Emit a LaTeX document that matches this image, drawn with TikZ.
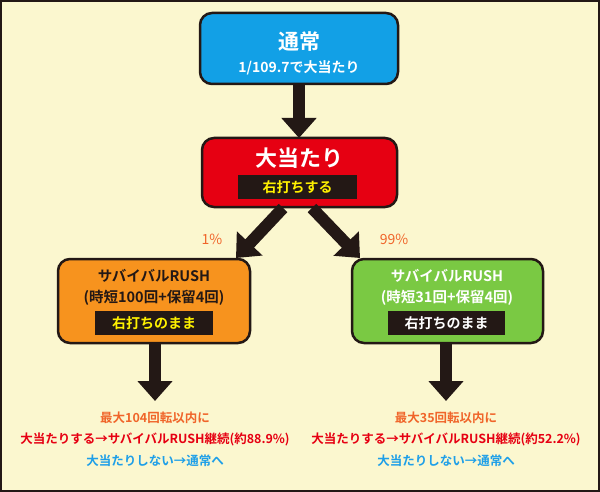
\documentclass[tikz,border=0pt]{standalone}
\usepackage{fontspec}
\setmainfont{Noto Sans CJK JP}[BoldFont={* Bold}]
\usetikzlibrary{arrows.meta}
\definecolor{bg}{HTML}{FBF7CF}
\definecolor{ink}{HTML}{231815}
\definecolor{cblue}{HTML}{12A0E6}
\definecolor{cred}{HTML}{E60012}
\definecolor{corange}{HTML}{F7931E}
\definecolor{cgreen}{HTML}{7AC943}
\definecolor{tor}{HTML}{F0652A}
\definecolor{tred}{HTML}{E60012}
\definecolor{tblue}{HTML}{1E9FE8}
\definecolor{yel}{HTML}{FFF100}
\begin{document}
\begin{tikzpicture}[x=1pt,y=-1pt,
 box/.style={draw=ink,line width=2.5pt,rounded corners=12pt},
 lab/.style={fill=ink,inner sep=0pt,font=\bfseries\fontsize{14}{14}\selectfont},
 arr/.style={draw=ink,line width=12pt,-{Triangle[width=34pt,length=20pt]}},
 t/.style={font=\bfseries\fontsize{12.5}{13}\selectfont,inner sep=0pt}]
\fill[bg] (0,0) rectangle (600,492);
\draw[ink,line width=2pt] (1,1) rectangle (599,491);
% top
\draw[box,fill=cblue] (200,13) rectangle (398,84);
\node[t,text=white,font=\bfseries\fontsize{21}{21}\selectfont] (n1) at (299,42) {通常};
\node[t,text=white,font=\bfseries\fontsize{14}{14}\selectfont] (n1b) at (299,68) {1/109.7で大当たり};
\coordinate (a1s) at (299,84); \coordinate (a1e) at (299,138);
\draw[arr] (a1s) -- (a1e);
% red
\draw[box,fill=cred] (202,138) rectangle (397,207);
\node[t,text=white,font=\bfseries\fontsize{22}{22}\selectfont] (n2) at (299,158) {大当たり};
\node[lab,minimum width=119pt,minimum height=24pt,text=yel] (n2b) at (297.5,187) {右打ちする};
\coordinate (a2s) at (283,208); \coordinate (a2e) at (236,258);
\coordinate (a3s) at (312,208); \coordinate (a3e) at (360,258);
\draw[arr] (a2s) -- (a2e);
\draw[arr] (a3s) -- (a3e);
\node[t,text=tor,font=\fontsize{14}{14}\selectfont] (p1) at (212,239) {1\%};
\node[t,text=tor,font=\fontsize{14}{14}\selectfont] (p2) at (394,239) {99\%};
% orange
\draw[box,fill=corange] (58,259) rectangle (250,343);
\node[t,text=ink,font=\bfseries\fontsize{14.5}{15}\selectfont] (o1) at (154,276) {サバイバルRUSH};
\node[t,text=ink,font=\bfseries\fontsize{14.5}{15}\selectfont] (o2) at (154,298) {(時短100回+保留4回)};
\node[lab,minimum width=118pt,minimum height=24pt,text=yel] (o3) at (154,323) {右打ちのまま};
% green
\draw[box,fill=cgreen] (352,259) rectangle (543,343);
\node[t,text=white,font=\bfseries\fontsize{14.5}{15}\selectfont] (g1) at (447,276) {サバイバルRUSH};
\node[t,text=white,font=\bfseries\fontsize{14.5}{15}\selectfont] (g2) at (447,298) {(時短31回+保留4回)};
\node[lab,minimum width=117pt,minimum height=24pt,text=white] (g3) at (446.5,323) {右打ちのまま};
\coordinate (a4s) at (155,344); \coordinate (a4e) at (155,401);
\coordinate (a5s) at (446,344); \coordinate (a5e) at (446,401);
\draw[arr] (a4s) -- (a4e);
\draw[arr] (a5s) -- (a5e);
% bottom texts
\node[t,text=tor] (l1) at (155,418) {最大104回転以内に};
\node[t,text=tred] (l2) at (155,439) {大当たりする→サバイバルRUSH継続(約88.9\%)};
\node[t,text=tblue] (l3) at (155,461) {大当たりしない→通常へ};
\node[t,text=tor] (r1) at (446,418) {最大35回転以内に};
\node[t,text=tred] (r2) at (446,439) {大当たりする→サバイバルRUSH継続(約52.2\%)};
\node[t,text=tblue] (r3) at (446,461) {大当たりしない→通常へ};
\end{tikzpicture}
\end{document}
